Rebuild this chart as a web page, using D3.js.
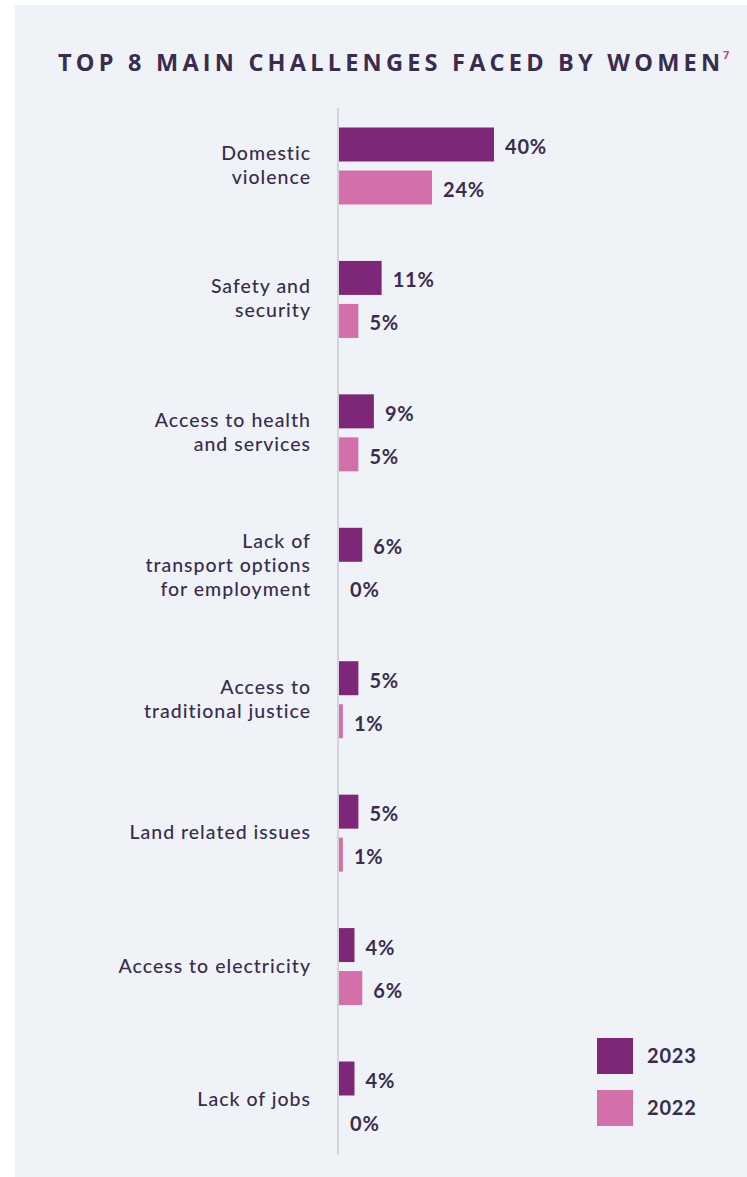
<!DOCTYPE html>
<html>
<head>
<meta charset="utf-8">
<script src="https://cdn.jsdelivr.net/npm/d3@7"></script>
<style>
  html, body { margin: 0; padding: 0; background: #ffffff; }
  svg { display: block; }
  text { font-family: Lato, "Open Sans", sans-serif; }
</style>
</head>
<body>
<svg id="chart" width="747" height="1177"></svg>
<script>
// ---- data ----
const titleText = "TOP 8 MAIN CHALLENGES FACED BY WOMEN";
const footnoteMark = "7";
const categories = [
  "Domestic\nviolence",
  "Safety and\nsecurity",
  "Access to health\nand services",
  "Lack of\ntransport options\nfor employment",
  "Access to\ntraditional justice",
  "Land related issues",
  "Access to electricity",
  "Lack of jobs"
];
const seriesKeys = ["2023", "2022"];
const values2023 = [40, 11, 9, 6, 5, 5, 4, 4];
const values2022 = [24, 5, 5, 0, 1, 1, 6, 0];
const seriesColors = ["#7e2779", "#d370a9"];

// ---- drawing ----
const svg = d3.select("#chart");
const textColor = "#3a2c4e";

// panel background
svg.append("rect").attr("x", 15).attr("y", 5).attr("width", 732).attr("height", 1172)
  .attr("fill", "#eff3f8");

// title
svg.append("text")
  .attr("x", 58).attr("y", 71)
  .style("font-family", "'Open Sans', Lato, sans-serif")
  .attr("font-size", 23.5).attr("font-weight", 700)
  .attr("fill", textColor)
  .attr("textLength", 662).attr("lengthAdjust", "spacing")
  .text(titleText);
svg.append("text")
  .attr("x", 723).attr("y", 59)
  .style("font-family", "'Open Sans', Lato, sans-serif")
  .attr("font-size", 11).attr("font-weight", 700)
  .attr("fill", "#c2468a")
  .text(footnoteMark);

// scales
const x = d3.scaleLinear().domain([0, 40]).range([339, 494]);
const y = d3.scalePoint().domain(categories).range([166, 1100]);
const inner = d3.scaleBand().domain(seriesKeys).range([-38.5, 38.5]).paddingInner(9 / 43);
const color = d3.scaleOrdinal().domain(seriesKeys).range(seriesColors);

const rows = categories.map((c, i) => ({ cat: c, vals: [
  { key: "2023", v: values2023[i] },
  { key: "2022", v: values2022[i] }
]}));

// axis line
svg.append("line")
  .attr("x1", 338).attr("x2", 338)
  .attr("y1", 108).attr("y2", 1155)
  .attr("stroke", "#c9cacf").attr("stroke-width", 1.5);

const groups = svg.selectAll("g.group").data(rows).join("g")
  .attr("class", "group")
  .attr("transform", d => `translate(0,${y(d.cat)})`);

groups.selectAll("rect").data(d => d.vals).join("rect")
  .attr("x", x(0))
  .attr("y", d => inner(d.key))
  .attr("width", d => x(d.v) - x(0))
  .attr("height", inner.bandwidth())
  .attr("fill", d => color(d.key));

groups.selectAll("text.val").data(d => d.vals).join("text")
  .attr("class", "val")
  .attr("x", d => x(d.v) + 11)
  .attr("y", d => inner(d.key) + inner.bandwidth() / 2 + 9.5)
  .attr("font-size", 20).attr("font-weight", 700)
  .attr("letter-spacing", 0.8)
  .attr("fill", textColor)
  .text(d => d.v + "%");

// category labels
const lineH = 24;
groups.each(function(d) {
  const lines = d.cat.split("\n");
  const first = 6 - (lines.length - 1) * lineH / 2;
  const t = d3.select(this).append("text")
    .attr("x", 311)
    .attr("text-anchor", "end")
    .attr("font-size", 19.5).attr("font-weight", 500)
    .attr("letter-spacing", 1)
    .attr("fill", textColor);
  lines.forEach((ln, i) => {
    t.append("tspan").attr("x", 311).attr("y", first + i * lineH).text(ln);
  });
});

// legend
const legend = svg.append("g").selectAll("g").data(seriesKeys).join("g")
  .attr("transform", (d, i) => `translate(597,${1038 + i * 52})`);
legend.append("rect").attr("width", 36).attr("height", 36).attr("fill", d => color(d));
legend.append("text").attr("x", 50).attr("y", 25)
  .attr("font-size", 20).attr("font-weight", 700).attr("letter-spacing", 0.8)
  .attr("fill", textColor).text(d => d);
</script>
</body>
</html>
